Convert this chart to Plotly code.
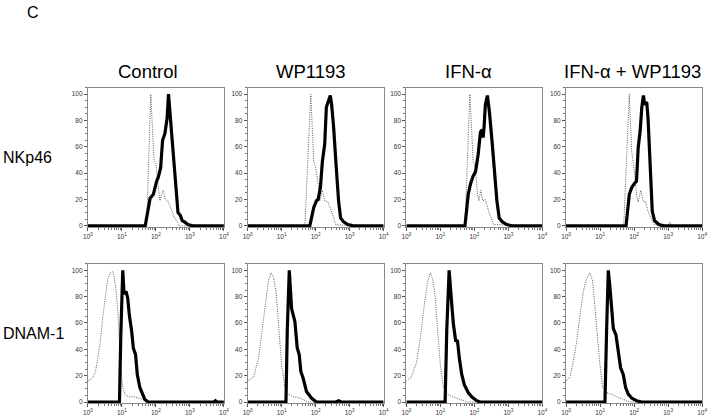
import plotly.graph_objects as go

# ---------------- data (x as log10 fluorescence, y as % of max) ----------------
col_titles = ["Control", "WP1193", "IFN-\u03b1", "IFN-\u03b1 + WP1193"]
row_titles = ["NKp46", "DNAM-1"]
x_tick_vals = [1, 10, 100, 1000, 10000]
x_tick_text = ["10<sup>0</sup>", "10<sup>1</sup>", "10<sup>2</sup>", "10<sup>3</sup>", "10<sup>4</sup>"]
y_tick_vals = [0, 20, 40, 60, 80, 100]

# Row 1: NKp46
nk_ctrl_iso_x = [0, 1.73, 1.79, 1.851, 1.947, 2.005, 2.053, 2.120, 2.169, 2.217, 2.275, 2.352, 2.429, 2.487, 2.554, 2.622, 2.680, 4]
nk_ctrl_iso_y = [0, 0, 50, 100, 49, 47, 34, 19, 24, 27, 20, 19, 14, 10, 6, 3, 0, 0]
nk_ctrl_stn_x = [0, 1.687, 1.831, 1.928, 2.024, 2.072, 2.140, 2.198, 2.265, 2.332, 2.371, 2.429, 2.487, 2.554, 2.602, 2.651, 2.718, 2.776, 2.843, 2.940, 3.084, 4]
nk_ctrl_stn_y = [0, 0, 21, 24, 34, 37, 44, 65, 70, 82, 100, 80, 65, 44, 27, 10, 8, 4, 3, 1, 0, 0]

nk_wp_iso_x = [0, 1.684, 1.859, 1.946, 2.005, 2.073, 2.122, 2.200, 2.268, 2.365, 2.433, 2.511, 2.589, 3.0, 3.05, 3.1, 4]
nk_wp_iso_y = [0, 0, 100, 49, 44, 32, 19, 27, 19, 18, 13, 8, 1, 0, 2, 0, 0]
nk_wp_stn_x = [0, 1.830, 1.946, 2.024, 2.073, 2.141, 2.200, 2.268, 2.316, 2.384, 2.433, 2.472, 2.530, 2.608, 2.676, 2.735, 2.822, 2.949, 3.095, 4]
nk_wp_stn_y = [0, 0, 14, 19, 20, 29, 49, 62, 90, 95, 99, 92, 75, 44, 19, 6, 3, 1, 0, 0]

nk_ifn_iso_x = [0, 1.724, 1.869, 1.966, 2.034, 2.092, 2.131, 2.189, 2.247, 2.324, 2.421, 2.499, 2.567, 4]
nk_ifn_iso_y = [0, 0, 100, 49, 44, 24, 19, 27, 19, 20, 11, 5, 1, 0]
nk_ifn_stn_x = [0, 1.724, 1.821, 1.889, 1.966, 2.034, 2.111, 2.179, 2.228, 2.257, 2.286, 2.324, 2.383, 2.441, 2.518, 2.596, 2.663, 2.731, 2.828, 2.954, 3.099, 4]
nk_ifn_stn_y = [0, 0, 24, 32, 38, 41, 54, 71, 73, 67, 75, 92, 99, 87, 65, 39, 19, 6, 3, 1, 0, 0]

nk_comb_iso_x = [0, 1.696, 1.860, 1.928, 2.005, 2.082, 2.120, 2.198, 2.265, 2.342, 2.410, 2.487, 2.583, 3.0, 3.05, 3.1, 4]
nk_comb_iso_y = [0, 0, 100, 57, 42, 22, 18, 27, 19, 18, 11, 6, 1, 0, 3, 0, 0]
nk_comb_stn_x = [0, 1.764, 1.860, 1.928, 2.005, 2.072, 2.120, 2.178, 2.227, 2.275, 2.313, 2.371, 2.410, 2.467, 2.535, 2.602, 2.728, 2.872, 4]
nk_comb_stn_y = [0, 0, 24, 29, 32, 34, 59, 72, 90, 99, 92, 94, 82, 44, 11, 4, 1, 0, 0]

# Row 2: DNAM-1
dn_ctrl_iso_x = [0, 0.077, 0.155, 0.223, 0.291, 0.368, 0.446, 0.513, 0.581, 0.659, 0.726, 0.775, 0.833, 0.881, 0.930, 0.969, 1.027, 1.094, 1.191, 1.337, 1.482, 1.627, 1.772, 4]
dn_ctrl_iso_y = [16, 17, 19, 23, 33, 46, 66, 82, 93, 98, 99, 95, 84, 69, 46, 26, 11, 6, 4, 4, 3, 2, 0, 0]
dn_ctrl_stn_x = [0, 0.930, 0.969, 1.027, 1.065, 1.123, 1.172, 1.220, 1.288, 1.337, 1.404, 1.453, 1.530, 1.608, 1.676, 1.772, 3.7, 3.75, 3.8, 4]
dn_ctrl_stn_y = [0, 0, 50, 100, 82, 84, 79, 66, 54, 41, 36, 21, 11, 6, 2, 0, 0, 1, 0, 0]

dn_wp_iso_x = [0, 0.175, 0.321, 0.418, 0.516, 0.613, 0.691, 0.759, 0.837, 0.934, 1.002, 1.100, 1.197, 1.343, 1.538, 1.781, 4]
dn_wp_iso_y = [16, 19, 33, 54, 74, 92, 98, 95, 84, 54, 28, 11, 6, 4, 3, 0, 0]
dn_wp_stn_x = [0, 1.129, 1.168, 1.226, 1.294, 1.343, 1.392, 1.460, 1.518, 1.567, 1.635, 1.732, 1.878, 2.024, 2.6, 2.68, 2.75, 4]
dn_wp_stn_y = [0, 0, 55, 100, 71, 66, 61, 41, 36, 23, 18, 8, 3, 0, 0, 1, 0, 0]

dn_ifn_iso_x = [0, 0.150, 0.300, 0.420, 0.520, 0.620, 0.700, 0.770, 0.840, 0.930, 1.000, 1.090, 1.200, 1.350, 1.550, 1.800, 4]
dn_ifn_iso_y = [16, 19, 30, 50, 72, 90, 98, 94, 82, 55, 28, 11, 6, 4, 2, 0, 0]
dn_ifn_stn_x = [0, 1.141, 1.190, 1.259, 1.337, 1.385, 1.454, 1.502, 1.561, 1.629, 1.707, 1.824, 1.922, 2.068, 2.166, 4]
dn_ifn_stn_y = [0, 0, 55, 100, 74, 59, 46, 47, 33, 21, 13, 7, 4, 1, 0, 0]

dn_comb_iso_x = [0, 0.117, 0.215, 0.313, 0.411, 0.509, 0.606, 0.704, 0.782, 0.851, 0.919, 0.998, 1.076, 1.193, 1.340, 1.487, 1.682, 1.878, 4]
dn_comb_iso_y = [16, 19, 31, 46, 66, 84, 94, 98, 92, 74, 51, 28, 11, 7, 6, 4, 2, 0, 0]
dn_comb_stn_x = [0, 1.144, 1.193, 1.242, 1.291, 1.340, 1.389, 1.467, 1.535, 1.604, 1.682, 1.751, 1.829, 1.927, 2.073, 2.220, 4]
dn_comb_stn_y = [0, 0, 55, 100, 87, 69, 56, 51, 38, 26, 21, 11, 6, 3, 1, 0, 0]

panels = [
    [(nk_ctrl_iso_x, nk_ctrl_iso_y, nk_ctrl_stn_x, nk_ctrl_stn_y),
     (nk_wp_iso_x, nk_wp_iso_y, nk_wp_stn_x, nk_wp_stn_y),
     (nk_ifn_iso_x, nk_ifn_iso_y, nk_ifn_stn_x, nk_ifn_stn_y),
     (nk_comb_iso_x, nk_comb_iso_y, nk_comb_stn_x, nk_comb_stn_y)],
    [(dn_ctrl_iso_x, dn_ctrl_iso_y, dn_ctrl_stn_x, dn_ctrl_stn_y),
     (dn_wp_iso_x, dn_wp_iso_y, dn_wp_stn_x, dn_wp_stn_y),
     (dn_ifn_iso_x, dn_ifn_iso_y, dn_ifn_stn_x, dn_ifn_stn_y),
     (dn_comb_iso_x, dn_comb_iso_y, dn_comb_stn_x, dn_comb_stn_y)],
]

# ---------------- layout geometry (pixels) ----------------
W, H = 715, 420
col_px = [(84, 222), (246, 384), (407, 545), (569, 707)]
row_px = [(88, 228), (265, 405)]
title_cx = [145, 310, 470, 636]

minor_x = [m * 10 ** d for d in range(4) for m in range(2, 10)]

fig = go.Figure()
layout = {}
FONT = "Liberation Sans, Arial, sans-serif"
idx = 0
for r in range(2):
    for c in range(4):
        idx += 1
        sfx = "" if idx == 1 else str(idx)
        iso_x, iso_y, stn_x, stn_y = panels[r][c]
        fig.add_trace(go.Scatter(
            x=[10 ** v for v in iso_x], y=iso_y, mode="lines",
            line=dict(color="#333333", width=0.8, dash="1px,1.3px"),
            xaxis="x" + sfx, yaxis="y" + sfx, showlegend=False, hoverinfo="skip"))
        fig.add_trace(go.Scatter(
            x=[10 ** v for v in stn_x], y=stn_y, mode="lines",
            line=dict(color="black", width=3.2),
            xaxis="x" + sfx, yaxis="y" + sfx, showlegend=False, hoverinfo="skip"))
        x0, x1 = col_px[c]
        yt, yb = row_px[r]
        layout["xaxis" + sfx] = dict(
            domain=[x0 / W, x1 / W], anchor="y" + sfx, type="log", range=[0, 4],
            tickvals=x_tick_vals, ticktext=x_tick_text,
            ticks="outside", ticklen=3, tickwidth=1, tickcolor="#555",
            minor=dict(tickvals=minor_x, ticks="outside", ticklen=2, tickcolor="#777", tickwidth=0.8),
            showline=True, mirror=True, linecolor="#8a8a8a", linewidth=1,
            showgrid=False, zeroline=False,
            tickfont=dict(size=6.5, color="#333", family=FONT))
        layout["yaxis" + sfx] = dict(
            domain=[1 - yb / H, 1 - yt / H], anchor="x" + sfx, range=[-0.8, 105],
            tickvals=y_tick_vals, ticks="outside", ticklen=3, tickwidth=1, tickcolor="#555",
            minor=dict(dtick=5, ticks="outside", ticklen=2, tickcolor="#777", tickwidth=0.8),
            showline=True, mirror=True, linecolor="#8a8a8a", linewidth=1,
            showgrid=False, zeroline=False,
            tickfont=dict(size=6.5, color="#333", family=FONT))

annotations = []
for c, t in enumerate(col_titles):
    annotations.append(dict(text=t, x=title_cx[c] / W, y=1 - 72 / H, xref="paper", yref="paper",
                            showarrow=False, xanchor="center", yanchor="middle",
                            font=dict(size=18.5, color="black", family=FONT)))
row_label_y = [158, 335]
for r, t in enumerate(row_titles):
    annotations.append(dict(text=t, x=-4 / W, y=1 - row_label_y[r] / H, xref="paper", yref="paper",
                            showarrow=False, xanchor="left", yanchor="middle",
                            font=dict(size=16, color="black", family=FONT)))
annotations.append(dict(text="C", x=20 / W, y=1 - 13 / H, xref="paper", yref="paper",
                        showarrow=False, xanchor="left", yanchor="middle",
                        font=dict(size=16, color="black", family=FONT)))

fig.update_layout(
    width=W, height=H, margin=dict(l=0, r=0, t=0, b=0),
    paper_bgcolor="white", plot_bgcolor="white",
    annotations=annotations, **layout)

fig.write_html("out.html", config={"displayModeBar": False},
               post_script="document.body.style.margin='0';document.body.style.overflow='hidden';")
